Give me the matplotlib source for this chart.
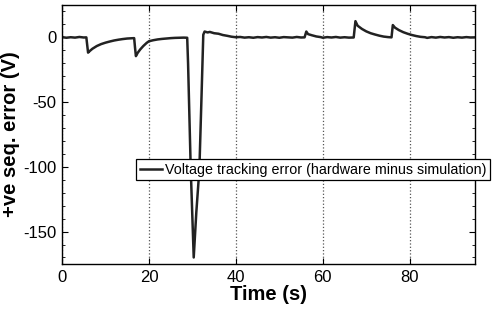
import numpy as np
import matplotlib
matplotlib.use("Agg")
import matplotlib.pyplot as plt

plt.rcParams['font.family'] = ['Liberation Sans', 'DejaVu Sans']
plt.rcParams['axes.unicode_minus'] = False

# tracking error samples (time in s, error in V)
t = [0.0, 1.0, 2.0, 3.0, 4.0, 5.0, 5.6, 5.8, 6.0, 6.4, 7.0, 8.0, 9.0, 10.0,
     11.0, 12.0, 13.0, 14.0, 15.0, 16.0, 16.6, 16.8, 17.0, 17.4, 18.0, 18.7,
     19.5, 20.0, 21.0, 22.0, 23.0, 24.0, 25.0, 26.0, 27.0, 28.0, 28.8, 29.0,
     29.6, 30.3, 30.9, 31.6, 32.1, 32.5, 32.8, 33.5, 34.0, 35.0, 36.0, 37.0,
     38.0, 39.0, 40.0, 41.0, 42.0, 43.0, 44.0, 45.0, 46.0, 47.0, 48.0, 49.0,
     50.0, 51.0, 52.0, 53.0, 54.0, 55.0, 55.8, 56.2, 56.6, 57.5, 58.5, 59.5,
     60.0, 61.0, 62.0, 63.0, 64.0, 65.0, 66.0, 67.1, 67.5, 68.0, 69.0, 70.0,
     71.0, 72.0, 73.0, 74.0, 75.0, 75.8, 76.1, 76.6, 77.5, 78.5, 79.5, 80.5,
     81.5, 82.5, 83.5, 84.0, 85.0, 86.0, 87.0, 88.0, 89.0, 90.0, 91.0, 92.0,
     93.0, 94.0, 95.0]
err = [0.2, -0.3, 0.1, -0.2, 0.3, -0.1, 0.0, -6.0, -11.8, -10.5, -8.8, -6.7,
       -5.2, -4.1, -3.2, -2.4, -1.8, -1.3, -0.9, -0.7, -0.6, -8.0, -14.5,
       -12.0, -9.3, -6.7, -4.2, -3.0, -2.2, -1.6, -1.2, -0.9, -0.6, -0.4,
       -0.3, -0.2, -0.3, -20.0, -100.0, -170.0, -135.0, -102.0, -45.0, 2.0,
       4.5, 3.8, 4.2, 3.2, 2.8, 1.8, 1.2, 0.5, 0.1, 0.3, -0.2, 0.1, -0.3, 0.2,
       -0.1, 0.3, -0.2, 0.1, -0.3, 0.2, 0.0, -0.2, 0.3, -0.1, 0.0, 4.5, 2.5,
       1.6, 0.7, 0.2, -0.3, 0.2, -0.1, 0.3, -0.2, 0.1, -0.2, -0.1, 12.5, 9.0,
       6.5, 4.6, 3.2, 2.2, 1.3, 0.6, 0.2, 0.0, 9.5, 7.5, 5.6, 4.0, 2.8, 1.8,
       1.0, 0.4, 0.1, -0.4, 0.2, -0.2, 0.3, -0.1, 0.2, -0.3, 0.1, -0.2, 0.2,
       -0.1, 0.0]

x_ticks = [0, 20, 40, 60, 80]
y_ticks = [0, -50, -100, -150]

fig = plt.figure(figsize=(4.94, 3.12), dpi=100)
ax = fig.add_axes([0.1255, 0.154, 0.836, 0.830])

ax.plot(t, err, color="#222222", linewidth=1.8,
        label="Voltage tracking error (hardware minus simulation)")

ax.set_xlim(0, 95)
ax.set_ylim(-175, 25)
ax.set_xticks(x_ticks)
ax.set_yticks(y_ticks)
ax.set_yticks(np.arange(-170, 30, 10), minor=True)
ax.tick_params(which="both", direction="in", right=True, top=True,
               labelsize=12, pad=4)
ax.tick_params(which="major", length=4)
ax.tick_params(which="minor", length=2)
ax.xaxis.grid(True, linestyle=":", color="#555555", linewidth=0.9)
for s in ax.spines.values():
    s.set_linewidth(1.0)

ax.set_xlabel("Time (s)", fontsize=14.5, fontweight="bold", labelpad=0)
ax.set_ylabel("+ve seq. error (V)", fontsize=14.5, fontweight="bold", labelpad=2)

leg = ax.legend(loc="upper left", bbox_to_anchor=(136 / 494, 1 - 159 / 312),
                bbox_transform=fig.transFigure, fontsize=10.3, fancybox=False,
                framealpha=1, edgecolor="black", handlelength=1.6,
                handletextpad=0.2, borderpad=0.25, borderaxespad=0)
leg.get_frame().set_linewidth(0.9)

fig.savefig("out.png", dpi=100)
